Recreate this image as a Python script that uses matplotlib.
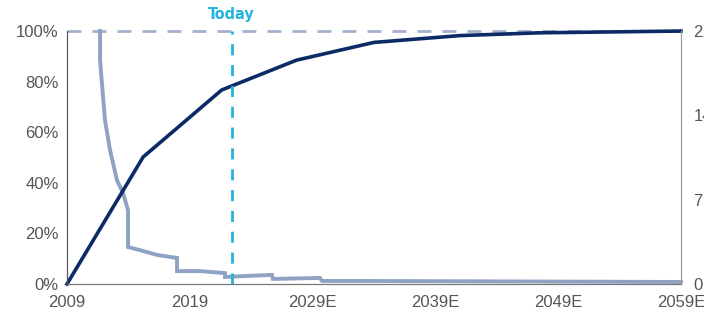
import matplotlib
matplotlib.use("Agg")
from matplotlib import pyplot as plt

# share of total supply issued (left axis, %)
supply_years = [2009, 2015.2, 2021.6, 2027.7, 2034.0, 2041.0, 2047.5, 2059]
supply_pct = [0, 50.2, 76.7, 88.5, 95.5, 98.2, 99.3, 100]

# annual issuance rate (left axis, %)
rate_years = [2011.69, 2011.69, 2012.09, 2012.5, 2013.07, 2013.56, 2013.97, 2013.97,
              2014.94, 2016.33, 2017.96, 2017.96, 2019.83, 2021.87, 2021.87,
              2025.69, 2025.77, 2029.6, 2029.77, 2032.86, 2059]
rate_pct = [100, 88.5, 64.8, 53, 41, 36, 29.2, 14.6,
            13.4, 11.5, 10.3, 5.1, 5.1, 4.3, 2.8,
            3.6, 2.0, 2.4, 1.2, 1.2, 0.8]

today = 2022.4
x_ticks = [2009, 2019, 2029, 2039, 2049, 2059]
x_labels = ["2009", "2019", "2029E", "2039E", "2049E", "2059E"]
y_ticks = [0, 20, 40, 60, 80, 100]
y2_ticks = [0, 7, 14, 21]

plt.rcParams["font.family"] = ["Liberation Sans", "DejaVu Sans"]

fig = plt.figure(figsize=(7.04, 3.2), dpi=100)
ax = fig.add_axes([0.0952, 0.1125, 0.872, 0.7905])

navy = "#0c2b66"
light = "#8fa2c3"
cyan = "#22b4df"

ax.plot([x_ticks[0], x_ticks[-1]], [100, 100], color="#a3b1cc", lw=2, dashes=(5, 4), clip_on=False)
ax.plot(rate_years, rate_pct, color=light, lw=2.8, solid_joinstyle="miter", clip_on=False)
ax.plot(supply_years, supply_pct, color=navy, lw=2.6, clip_on=False)
ax.plot([today, today], [0, 100], color=cyan, lw=2, dashes=(4, 3.5))
ax.text(today, 103.5, "Today", color=cyan, fontsize=11.5, fontweight="bold",
        ha="center", va="bottom", family=["DejaVu Sans"], fontstretch="condensed")

ax.set_xlim(2009, 2059)
ax.set_ylim(0, 100)
ax.set_xticks(x_ticks)
ax.set_xticklabels(x_labels)
ax.set_yticks(y_ticks)
ax.set_yticklabels([f"{v}%" for v in y_ticks])
ax.tick_params(length=0, labelsize=12, colors="#555555", pad=6)
ax.tick_params(axis="x", pad=8)

ax2 = ax.twinx()
ax2.set_ylim(0, 21)
ax2.set_yticks(y2_ticks)
ax2.tick_params(length=0, labelsize=12, colors="#555555", pad=9)

for a in (ax, ax2):
    a.spines["top"].set_visible(False)
    a.spines["left"].set_color("#555555")
    a.spines["bottom"].set_color("#777777")
    a.spines["right"].set_color("#999999")
    a.spines["right"].set_linewidth(0.8)

plt.savefig("out.png", dpi=100)
